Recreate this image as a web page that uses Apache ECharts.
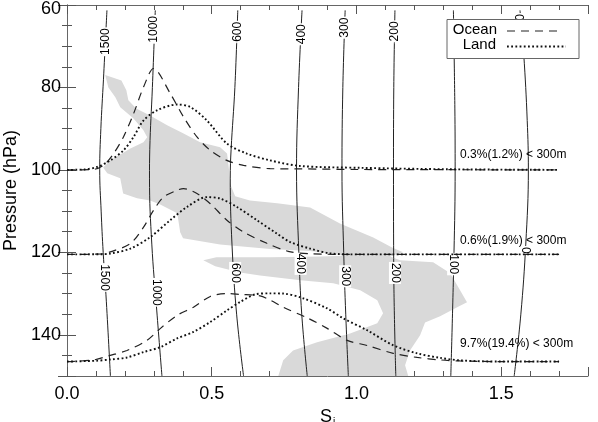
<!DOCTYPE html>
<html>
<head>
<meta charset="utf-8">
<script src="https://cdn.jsdelivr.net/npm/echarts@6/dist/echarts.min.js"></script>
<style>
  html, body { margin: 0; padding: 0; background: #fff; }
  #chart { width: 598px; height: 422px; }
</style>
</head>
<body>
<div id="chart"></div>
<script>
// x = S_i, y = pressure (hPa, inverted)

// grey shaded region, outline as [S, p]
var shade = [
  [0.132, 77.0], [0.188, 78.3], [0.205, 80.7], [0.212, 83.1], [0.239, 85.1], [0.287, 86.8],
  [0.346, 89.2], [0.401, 91.1], [0.460, 93.3], [0.529, 94.5], [0.553, 96.0], [0.560, 100.1],
  [0.563, 103.3], [0.581, 106.4], [0.632, 107.4], [0.726, 108.1], [0.840, 109.1], [0.943, 113.0],
  [1.058, 116.4], [1.123, 118.8], [1.161, 120.0], [1.116, 121.0], [1.151, 121.9], [1.265, 122.4],
  [1.324, 125.1], [1.358, 129.2], [1.382, 132.1], [1.348, 133.3], [1.289, 135.5], [1.237, 137.0],
  [1.220, 140.1], [1.185, 143.8], [1.168, 147.4], [1.179, 150.0],
  [0.730, 150.0], [0.747, 146.2], [0.781, 143.8], [0.864, 141.8], [0.978, 139.7], [1.072, 137.2],
  [1.092, 134.8], [1.072, 131.6], [1.013, 129.2], [0.920, 127.5], [0.806, 126.8], [0.667, 125.6],
  [0.598, 124.9], [0.512, 123.4], [0.471, 121.9], [0.516, 121.2], [0.702, 121.2], [0.875, 121.0],
  [0.960, 120.8], [0.840, 119.7], [0.702, 119.2], [0.529, 118.1], [0.401, 116.6], [0.391, 115.1],
  [0.381, 110.5], [0.322, 108.4], [0.287, 107.4], [0.242, 106.9], [0.194, 105.7], [0.184, 102.0],
  [0.139, 100.8], [0.125, 99.4], [0.149, 97.7], [0.219, 94.8], [0.264, 93.3], [0.277, 92.1],
  [0.264, 90.4], [0.229, 87.5], [0.184, 84.8], [0.167, 82.4], [0.143, 80.0]
];

// contour lines (labelled heights)
var contourLevels = ['1500', '1000', '600', '400', '300', '200', '100', '0'];
var c1500 = [[0.138, 61.3], [0.126, 78], [0.117, 90], [0.113, 100], [0.118, 110], [0.125, 120], [0.136, 132], [0.150, 150]];
var c1000 = [[0.305, 61.3], [0.295, 80], [0.286, 95], [0.285, 102], [0.293, 118], [0.310, 134], [0.328, 150]];
var c600 = [[0.590, 61.3], [0.580, 80], [0.567, 95], [0.564, 102], [0.570, 118], [0.586, 135], [0.610, 150]];
var c400 = [[0.812, 61.3], [0.800, 80], [0.793, 100], [0.801, 120], [0.811, 135], [0.830, 150]];
var c300 = [[0.961, 61.3], [0.953, 80], [0.950, 100], [0.956, 120], [0.963, 135], [0.972, 150]];
var c200 = [[1.133, 61.3], [1.129, 80], [1.128, 100], [1.129, 125], [1.136, 150]];
var c100 = [[1.335, 61.3], [1.340, 85], [1.341, 100], [1.337, 120], [1.326, 150]];
var c0 = [[1.565, 61.3], [1.578, 72], [1.590, 88], [1.594, 100], [1.585, 118], [1.568, 135], [1.545, 150]];
var contourLines = [c1500, c1000, c600, c400, c300, c200, c100, c0];
var labelsUpper = [[0.133, 68.9], [0.301, 65.9], [0.588, 66.5], [0.811, 67.1], [0.960, 65.5], [1.133, 66.4], [1.336, 66.0], [1.567, 63.0]];
var labelsLower = [[0.130, 126.1], [0.308, 129.7], [0.581, 125.0], [0.807, 122.8], [0.961, 125.8], [1.133, 125.0], [1.334, 122.9], [1.582, 119.5]];

// ocean (dashed) and land (dotted) distributions
var ocean1 = [[0, 100], [0.09, 99.9], [0.126, 98.9], [0.161, 96.05], [0.195, 92.0], [0.230, 86.35], [0.2645, 79.9], [0.299, 75.4],
  [0.357, 81.5], [0.403, 87.2], [0.449, 92.0], [0.495, 95.25], [0.552, 97.7], [0.610, 98.9], [0.702, 99.7], [0.805, 99.75], [1.0, 99.9], [1.7, 100]];
var land1 = [[0, 100], [0.06, 99.9], [0.1036, 99.3], [0.1495, 97.7], [0.1954, 95.25], [0.230, 92.0], [0.2645, 88.0], [0.311, 85.55],
  [0.380, 84.15], [0.426, 84.75], [0.483, 88.0], [0.5525, 93.6], [0.6215, 96.05], [0.702, 97.7], [0.805, 99.05], [1.013, 99.5], [1.32, 99.85], [1.7, 100]];
var ocean2 = [[0, 120.5], [0.12, 120.4], [0.1495, 119.9], [0.2186, 117.9], [0.2645, 113.9], [0.299, 109.8], [0.3336, 106.6], [0.380, 104.95],
  [0.4026, 104.55], [0.449, 105.75], [0.495, 108.2], [0.5525, 112.2], [0.610, 115.1], [0.6906, 117.8], [0.764, 119.75], [0.840, 120.35], [1.0, 120.5], [1.7, 120.5]];
var land2 = [[0, 120.5], [0.12, 120.45], [0.1495, 120.3], [0.2186, 119.1], [0.2876, 116.3], [0.3567, 112.2], [0.4144, 109.0], [0.4834, 106.6],
  [0.5293, 106.95], [0.587, 109.0], [0.656, 112.2], [0.725, 115.45], [0.771, 117.5], [0.840, 119.1], [0.909, 120.25], [1.013, 120.5], [1.7, 120.5]];
var ocean3 = [[0, 146.5], [0.0918, 146.1], [0.1495, 145.0], [0.207, 143.8], [0.276, 141.35], [0.322, 138.5], [0.380, 135.3], [0.437, 133.3],
  [0.495, 130.7], [0.5525, 130.0], [0.598, 130.2], [0.667, 130.55], [0.702, 131.6], [0.747, 133.3], [0.830, 135.9], [0.899, 138.45],
  [0.968, 141.35], [1.037, 142.6], [1.127, 144.5], [1.210, 145.5], [1.289, 146.1], [1.358, 146.35], [1.496, 146.5], [1.7, 146.5]];
var land3 = [[0, 146.5], [0.1, 146.3], [0.1495, 146.0], [0.207, 145.5], [0.2645, 144.2], [0.322, 143.0], [0.380, 140.9], [0.437, 139.3],
  [0.495, 136.9], [0.5525, 134.1], [0.598, 132.05], [0.650, 130.2], [0.702, 129.95], [0.747, 130.0], [0.816, 131.15], [0.899, 133.6],
  [0.954, 136.0], [1.037, 138.9], [1.127, 142.55], [1.210, 144.5], [1.289, 145.6], [1.358, 146.2], [1.496, 146.5], [1.7, 146.5]];

var notes = ['0.3%(1.2%) < 300m', '0.6%(1.9%) < 300m', '9.7%(19.4%) < 300m'];
var notePos = [[1.358, 96.2], [1.358, 117.1], [1.358, 142.1]];

var FONT = '"Liberation Sans", Arial, Helvetica, sans-serif';
var chart = echarts.init(document.getElementById('chart'), null, { renderer: 'canvas' });

function textSeries(pos, texts, rot, align) {
  return {
    type: 'custom', z: 5, silent: true,
    data: pos.map(function (d, i) { return [d[0], d[1], i]; }),
    renderItem: function (params, api) {
      var pt = api.coord([api.value(0), api.value(1)]);
      return {
        type: 'text', x: pt[0], y: pt[1], rotation: rot,
        style: {
          text: texts[api.value(2)], fontSize: 12, fontFamily: FONT, fill: '#000',
          align: align, verticalAlign: 'middle',
          backgroundColor: rot ? '#fff' : 'transparent', padding: rot ? [0, 1] : 0
        }
      };
    }
  };
}

var series = [{
  type: 'custom', z: 1, silent: true, data: [0],
  renderItem: function (params, api) {
    return {
      type: 'polygon',
      shape: { points: shade.map(function (d) { return api.coord(d); }) },
      style: { fill: '#d9d9d9' }
    };
  }
}];
contourLines.forEach(function (c) {
  series.push({ type: 'line', data: c, smooth: 0.4, symbol: 'none', z: 2, silent: true,
    lineStyle: { color: '#222', width: 1 } });
});
series.push(textSeries(labelsUpper, contourLevels, Math.PI / 2, 'center'));
series.push(textSeries(labelsLower, contourLevels, -Math.PI / 2, 'center'));
[ocean1, ocean2, ocean3].forEach(function (c) {
  series.push({ type: 'line', name: 'Ocean', data: c, smooth: 0.3, symbol: 'none', z: 6, silent: true,
    lineStyle: { color: '#222', width: 1.2, type: [8, 6] } });
});
[land1, land2, land3].forEach(function (c) {
  series.push({ type: 'line', name: 'Land', data: c, smooth: 0.3, symbol: 'none', z: 6, silent: true,
    lineStyle: { color: '#111', width: 1.9, type: [1.8, 2.4] } });
});
series.push(textSeries(notePos, notes, 0, 'left'));

var axisLine = { show: true, lineStyle: { color: '#666', width: 1 } };
chart.setOption({
  animation: false,
  textStyle: { fontFamily: FONT },
  grid: { left: 67, right: 10, top: 5, bottom: 46, containLabel: false, outerBoundsMode: 'none' },
  xAxis: [{
    type: 'value', min: 0, max: 1.8, interval: 0.5, position: 'bottom',
    name: '{s|S}{i|i}', nameLocation: 'middle', nameGap: 22,
    nameTextStyle: { rich: { s: { fontSize: 18, color: '#000', fontFamily: FONT },
      i: { fontSize: 10, color: '#000', fontFamily: FONT, padding: [10, 0, 0, 1] } } },
    axisLine: axisLine, splitLine: { show: false },
    axisTick: { inside: true, length: 9, lineStyle: { color: '#555' } },
    minorTick: { show: true, splitNumber: 5, length: 5, lineStyle: { color: '#555' } },
    axisLabel: { fontSize: 18, color: '#000', margin: 9, showMaxLabel: false,
      formatter: function (v) { return v.toFixed(1); } }
  }, {
    type: 'value', min: 0, max: 1.8, interval: 0.5, position: 'top',
    axisLine: axisLine, splitLine: { show: false }, axisLabel: { show: false },
    axisTick: { inside: true, length: 9, lineStyle: { color: '#555' } },
    minorTick: { show: true, splitNumber: 5, length: 5, lineStyle: { color: '#555' } }
  }],
  yAxis: [{
    type: 'value', min: 60, max: 150, interval: 20, inverse: true, position: 'left',
    name: 'Pressure (hPa)', nameLocation: 'middle', nameRotate: 90, nameGap: 45,
    nameTextStyle: { fontSize: 18, color: '#000' },
    axisLine: axisLine, splitLine: { show: false },
    axisTick: { inside: true, length: 9, lineStyle: { color: '#555' } },
    minorTick: { show: true, splitNumber: 4, length: 5, lineStyle: { color: '#555' } },
    axisLabel: { fontSize: 18, color: '#000', margin: 6, showMaxLabel: false,
      formatter: function (v) { return v === 60 ? '{t|60}' : String(v); },
      rich: { t: { fontSize: 18, color: '#000', fontFamily: FONT, padding: [8, 0, 0, 0] } } }
  }, {
    type: 'value', min: 60, max: 150, interval: 20, inverse: true, position: 'right',
    axisLine: axisLine, splitLine: { show: false }, axisLabel: { show: false },
    axisTick: { inside: true, length: 9, lineStyle: { color: '#555' } },
    minorTick: { show: true, splitNumber: 4, length: 5, lineStyle: { color: '#555' } }
  }],
  graphic: [
    { type: 'rect', z: 100, shape: { x: 447, y: 19.5, width: 132, height: 39 }, style: { fill: '#fff', stroke: '#666', lineWidth: 1 } },
    { type: 'text', z: 101, x: 497, y: 30, style: { text: 'Ocean', fontSize: 15, fontFamily: FONT, fill: '#000', align: 'right', verticalAlign: 'middle' } },
    { type: 'text', z: 101, x: 496, y: 45, style: { text: 'Land', fontSize: 15, fontFamily: FONT, fill: '#000', align: 'right', verticalAlign: 'middle' } },
    { type: 'line', z: 101, shape: { x1: 507, y1: 31, x2: 560, y2: 31 }, style: { stroke: '#222', lineWidth: 1.2, lineDash: [8, 6] } },
    { type: 'line', z: 101, shape: { x1: 507, y1: 46.5, x2: 566, y2: 46.5 }, style: { stroke: '#111', lineWidth: 1.9, lineDash: [1.8, 2.4] } }
  ],
  series: series
});
</script>
</body>
</html>
